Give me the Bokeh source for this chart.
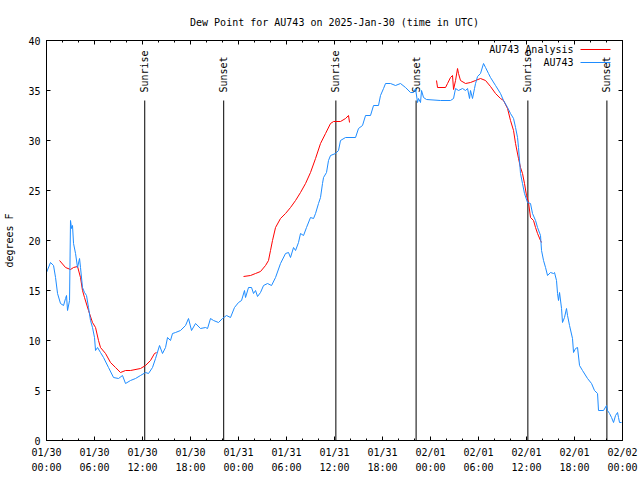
import math
from bokeh.plotting import figure
from bokeh.models import FixedTicker, LinearAxis, Label, Arrow, Range1d, ColumnDataSource
from bokeh.core.properties import value
from bokeh.embed import file_html
from bokeh.resources import INLINE

FONT = "DejaVu Sans Mono"

# Observed dew point (AU743), hours since 2025-01-30 00:00 UTC
obs_hours = [0.0, 0.5, 0.88, 1.13, 1.38, 1.75, 2.13, 2.38, 2.5, 2.63, 2.88, 3.0, 3.13, 3.25, 3.38, 3.63, 3.88,
             4.13, 4.25, 4.5, 4.75, 5.0, 5.25, 5.5, 5.75, 6.0, 6.13, 6.38, 6.75, 7.13, 7.75, 8.38, 9.0, 9.5,
             9.88, 10.5, 11.13, 11.75, 12.38, 12.75, 13.25, 13.63, 14.13, 14.5, 14.88, 15.13, 15.5, 15.75,
             16.13, 16.75, 17.38, 17.75, 18.13, 18.63, 19.25, 19.88, 20.13, 20.5, 20.88, 21.5, 22.0, 22.5,
             23.0, 23.5, 24.0, 24.38, 24.75, 24.88, 25.25, 25.63, 25.88, 26.13, 26.38, 26.75, 27.13, 27.63,
             28.13, 28.63, 29.25, 29.88, 30.25, 30.5, 30.88, 31.13, 31.5, 31.75, 32.13, 32.5, 33.0, 33.38,
             33.63, 34.0, 34.25, 34.5, 34.63, 35.0, 35.25, 35.5, 36.13, 36.5, 36.75, 37.38, 38.63, 39.0,
             39.5, 39.88, 40.5, 40.88, 41.5, 41.75, 42.13, 42.38, 43.0, 43.63, 44.25, 44.88, 45.5, 45.88,
             46.13, 46.38, 46.5, 46.75, 46.88, 47.13, 47.5, 49.25, 50.5, 50.88, 51.13, 51.5, 52.0, 52.38,
             52.63, 52.88, 53.0, 53.25, 53.5, 53.63, 53.88, 54.25, 54.63, 54.88, 55.25, 55.5, 56.13, 56.75,
             57.13, 57.63, 58.0, 58.38, 58.63, 58.88, 59.0, 59.25, 59.5, 59.75, 60.13, 60.5, 60.75, 61.13,
             61.38, 61.75, 61.88, 62.13, 62.38, 62.63, 63.0, 63.38, 63.5, 63.75, 63.88, 64.0, 64.13, 64.38,
             64.5, 64.75, 65.0, 65.13, 65.38, 65.75, 65.88, 66.13, 66.38, 66.63, 67.0, 67.63, 68.13, 68.5,
             68.88, 69.0, 69.63, 70.0, 70.13, 70.38, 70.63, 70.88, 71.13, 71.38, 71.5, 71.63, 71.88]
obs_dewpt = [16.8, 17.8, 17.5, 16.3, 14.7, 13.7, 13.5, 14.2, 14.5, 13.0, 14.0, 22.0, 21.2, 21.5, 19.7, 18.7, 17.3,
             18.2, 17.3, 15.3, 14.8, 14.5, 13.3, 12.0, 11.3, 10.3, 9.0, 9.3, 8.8, 8.3, 7.3, 6.3, 6.2, 6.5,
             5.7, 6.0, 6.2, 6.5, 6.8, 6.7, 7.3, 8.2, 9.5, 8.7, 9.3, 10.3, 10.0, 10.7,
             10.8, 11.0, 11.5, 12.2, 11.0, 11.7, 11.2, 11.3, 11.2, 12.2, 12.0, 11.8, 12.2, 12.5,
             12.3, 13.3, 13.8, 14.0, 15.0, 14.3, 15.3, 15.3, 14.7, 15.0, 14.4, 14.8, 15.5, 15.7,
             15.5, 16.3, 17.7, 18.7, 18.8, 18.3, 19.3, 19.0, 19.8, 20.7, 20.5, 21.3, 22.3, 22.2,
             22.7, 23.7, 24.3, 25.7, 26.3, 26.8, 28.0, 28.5, 28.7, 29.0, 30.0, 30.3, 30.3, 31.2,
             31.5, 32.5, 32.5, 33.5, 33.5, 34.5, 35.2, 35.7, 35.7, 35.5, 35.7, 35.3, 34.8, 34.8,
             35.2, 33.8, 34.2, 33.8, 35.0, 34.3, 34.1, 34.0, 34.0, 34.2, 35.2, 35.0, 35.2, 35.0,
             35.2, 34.2, 35.0, 34.2, 35.2, 35.7, 36.4, 36.7, 37.7, 37.3, 36.7, 36.3, 35.5, 34.7,
             34.0, 33.3, 32.7, 32.2, 31.3, 30.3, 29.3, 26.7, 25.7, 24.7, 23.8, 23.7, 22.7, 22.0,
             21.3, 20.5, 19.0, 18.0, 17.3, 16.5, 16.8, 16.7, 16.8, 16.0, 14.7, 14.0, 14.8, 13.2,
             11.8, 12.3, 13.2, 12.5, 11.5, 10.2, 8.8, 9.2, 9.3, 7.5, 7.0, 6.2, 5.7, 5.0,
             4.7, 3.0, 3.0, 3.5, 3.0, 2.7, 2.3, 1.8, 2.5, 2.8, 2.3, 1.8, 1.8]

# Analysis dew point (AU743 Analysis); None marks a gap in the series
ana_hours = [1.63, 2.38, 3.0, 3.38, 3.88, 4.25, 4.5, 4.75, 5.25, 5.75, 6.13, 6.5, 6.75, 7.38, 8.0, 8.63, 9.25,
             9.88, 10.5, 11.75, 12.38, 13.0, 13.5, 13.75, None,
             24.63, 25.5, 26.13, 26.75, 27.38, 27.75, 28.0, 28.25, 28.63, 29.25, 29.88, 30.5, 31.13, 31.75,
             32.38, 33.0, 33.63, 34.25, 34.88, 35.5, 35.88, 36.75, 37.38, 37.75, 37.88, None,
             48.75, 48.88, 49.88, 50.13, 50.5, 50.75, 50.88, 51.13, 51.38, 51.5, 51.75, 52.38, 53.0, 53.63,
             54.25, 54.88, 55.5, 56.13, 56.75, 57.13, 57.63, 58.0, 58.38, 58.63, 59.0, 59.25, 59.5, 59.75,
             60.0, 60.25, 60.5, 60.88, 61.13, 61.38, 61.75, 61.88]
ana_dewpt = [18.0, 17.3, 17.1, 17.3, 17.4, 16.3, 15.0, 14.3, 13.0, 11.8, 11.3, 10.0, 9.3, 8.7, 7.8, 7.3, 6.8,
             7.0, 7.0, 7.2, 7.5, 8.0, 8.7, 8.8, None,
             16.4, 16.5, 16.7, 16.9, 17.5, 18.0, 19.0, 20.0, 21.3, 22.2, 22.7, 23.3, 24.0, 24.8,
             25.7, 26.8, 28.2, 29.7, 30.7, 31.7, 31.9, 31.9, 32.2, 32.5, 31.8, None,
             36.0, 35.3, 35.3, 35.7, 36.3, 36.5, 35.1, 36.0, 37.2, 36.7, 36.0, 35.7, 35.8, 36.0,
             36.2, 36.0, 35.4, 34.7, 34.2, 34.0, 33.2, 32.0, 31.0, 29.7, 28.2, 27.3, 26.7, 25.7,
             24.5, 23.8, 22.3, 22.0, 21.3, 20.7, 20.0, 19.8]

sun_events = ["Sunrise", "Sunset", "Sunrise", "Sunset", "Sunrise", "Sunset"]
sun_hours = [12.28, 22.15, 36.17, 46.2, 60.17, 70.05]

x_tick_hours = [0, 6, 12, 18, 24, 30, 36, 42, 48, 54, 60, 66, 72]
x_tick_labels = ["01/30\n00:00", "01/30\n06:00", "01/30\n12:00", "01/30\n18:00",
                 "01/31\n00:00", "01/31\n06:00", "01/31\n12:00", "01/31\n18:00",
                 "02/01\n00:00", "02/01\n06:00", "02/01\n12:00", "02/01\n18:00",
                 "02/02\n00:00"]
x_minor_hours = [h for h in range(0, 73, 2)]
y_ticks = [0, 5, 10, 15, 20, 25, 30, 35, 40]

title_text = "Dew Point for AU743 on 2025-Jan-30 (time in UTC)"
y_label = "degrees F"
series_names = ["AU743 Analysis", "AU743"]
series_colors = ["#ff0000", "#1e8cff"]

ana_x = [math.nan if v is None else v for v in ana_hours]
ana_y = [math.nan if v is None else v for v in ana_dewpt]

p = figure(frame_width=576, frame_height=400, output_backend="svg", toolbar_location=None,
           x_range=Range1d(0, 72), y_range=Range1d(0, 40),
           min_border_left=46, min_border_right=17, min_border_top=40, min_border_bottom=36,
           title=title_text)
p.background_fill_color = "white"
p.border_fill_color = "white"
p.outline_line_color = "black"
p.outline_line_width = 1
p.xgrid.visible = False
p.ygrid.visible = False

p.title.align = "center"
p.title.text_font = FONT
p.title.text_font_size = "10px"
p.title.text_font_style = "normal"
p.title.text_color = "black"
p.title.standoff = 25

xt = FixedTicker(ticks=x_tick_hours, minor_ticks=x_minor_hours)
yt = FixedTicker(ticks=y_ticks, minor_ticks=[])

for ax in p.xaxis:
    ax.ticker = xt
    ax.major_label_overrides = {t: l for t, l in zip(x_tick_hours, x_tick_labels)}
for ax in p.yaxis:
    ax.ticker = yt
    ax.axis_label = y_label

for ax in p.axis:
    ax.axis_line_color = "black"
    ax.major_tick_in = 4
    ax.major_tick_out = 0
    ax.minor_tick_in = 2
    ax.minor_tick_out = 0
    ax.major_tick_line_color = "black"
    ax.minor_tick_line_color = "black"
    ax.major_label_text_font = FONT
    ax.major_label_text_font_size = "10px"
    ax.major_label_text_color = "black"
    ax.axis_label_text_font = FONT
    ax.axis_label_text_font_size = "10px"
    ax.axis_label_text_font_style = "normal"
    ax.axis_label_text_color = "black"

p.xaxis.major_label_standoff = 6
p.xaxis.major_label_text_line_height = 1.45
p.yaxis.major_label_standoff = 6
p.yaxis.axis_label_standoff = 10

# mirrored ticks on top and right
right_ax = LinearAxis(ticker=yt, major_tick_in=4, major_tick_out=0, minor_tick_in=0, minor_tick_out=0,
                      major_label_text_font_size="0px", major_label_standoff=0,
                      major_label_text_color=None, axis_line_color="black")
top_ax = LinearAxis(ticker=xt, major_tick_in=4, major_tick_out=0, minor_tick_in=2, minor_tick_out=0,
                    major_label_text_font_size="0px", major_label_standoff=0,
                    major_label_text_color=None, axis_line_color="black")
p.add_layout(right_ax, "right")
p.add_layout(top_ax, "above")

# sunrise / sunset markers
sun_src = ColumnDataSource(data=dict(x=sun_hours, label=sun_events))
p.segment(x0="x", y0=0, x1="x", y1=34, source=sun_src, line_color="black", line_width=1)
p.text(x="x", y=34.8, text="label", source=sun_src, angle=math.pi / 2,
       text_align="left", text_baseline="middle", text_font=value(FONT),
       text_font_size="10px", text_color="black")

# data lines
p.line(ana_x, ana_y, line_color=series_colors[0], line_width=1)
p.line(obs_hours, obs_dewpt, line_color=series_colors[1], line_width=1)

# gnuplot-style key: label then sample line, top-right
for i, (name, col) in enumerate(zip(series_names, series_colors)):
    yy = 391 - 13 * i
    p.add_layout(Label(x=527, y=yy, x_units="screen", y_units="screen", text=name,
                       text_align="right", text_baseline="middle", text_font=FONT,
                       text_font_size="10px", text_color="black"))
    p.add_layout(Arrow(x_start=534, y_start=yy, x_end=564, y_end=yy,
                       start_units="screen", end_units="screen", end=None,
                       line_color=col, line_width=1))

open("out.html", "w").write(file_html(p, INLINE))
